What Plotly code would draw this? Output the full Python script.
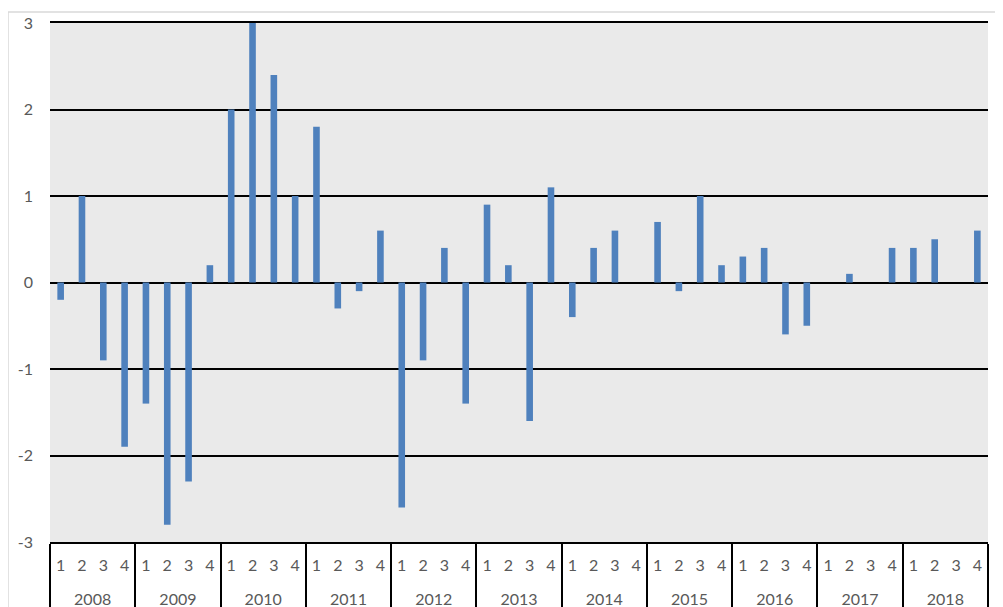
import plotly.graph_objects as go

years = ["2008", "2009", "2010", "2011", "2012", "2013", "2014", "2015", "2016", "2017", "2018"]
quarters = ["1", "2", "3", "4"]
values = [
    -0.2, 1.0, -0.9, -1.9,   # 2008
    -1.4, -2.8, -2.3, 0.2,   # 2009
    2.0, 3.0, 2.4, 1.0,      # 2010
    1.8, -0.3, -0.1, 0.6,    # 2011
    -2.6, -0.9, 0.4, -1.4,   # 2012
    0.9, 0.2, -1.6, 1.1,     # 2013
    -0.4, 0.4, 0.6, 0.0,     # 2014
    0.7, -0.1, 1.0, 0.2,     # 2015
    0.3, 0.4, -0.6, -0.5,    # 2016
    0.0, 0.1, 0.0, 0.4,      # 2017
    0.4, 0.5, 0.0, 0.6,      # 2018
]
y_ticks = [-3, -2, -1, 0, 1, 2, 3]

nq = len(quarters)
x_idx = list(range(len(values)))
quarter_text = [q for _ in years for q in quarters]
year_pos = [i * nq + (nq - 1) / 2 for i in range(len(years))]
divider_pos = [i * nq - 0.5 for i in range(len(years) + 1)]
x_range = [-0.5, len(values) - 0.5]

# page body has an 8px offset in the viewer, compensate
OFF = 8
W, H = 1003 - OFF, 607 - OFF
ml, mr, mt, mb = 50 - OFF, 15, 23 - OFF, 65
pw = W - ml - mr
ph = H - mt - mb

fig = go.Figure()
fig.add_trace(go.Bar(
    x=x_idx,
    y=values,
    marker=dict(color="#4f81bd", line=dict(width=0)),
    width=0.31,
    hoverinfo="y",
))
# carrier trace so the year-label axis is rendered
fig.add_trace(go.Scatter(
    x=year_pos,
    y=[None] * len(year_pos),
    xaxis="x2",
    mode="markers",
    marker=dict(opacity=0),
    hoverinfo="skip",
    showlegend=False,
))

font = dict(family="Lato, Liberation Sans, sans-serif", size=16, color="#595959")

fig.update_layout(
    width=W, height=H,
    margin=dict(l=ml, r=mr, t=mt, b=mb, pad=0, autoexpand=False),
    paper_bgcolor="white",
    plot_bgcolor="#eaeaea",
    showlegend=False,
    font=font,
    xaxis=dict(
        automargin=False,
        range=x_range,
        tickmode="array",
        tickvals=x_idx,
        ticktext=quarter_text,
        ticks="",
        ticklabelstandoff=8,
        showline=True,
        linecolor="black",
        linewidth=1.5,
        mirror=True,
        showgrid=False,
        zeroline=False,
        tickfont=font,
        minor=dict(
            tickmode="array",
            tickvals=divider_pos,
            ticks="outside",
            ticklen=70,
            tickwidth=1.5,
            tickcolor="black",
            showgrid=False,
        ),
    ),
    xaxis2=dict(
        automargin=False,
        overlaying="x",
        anchor="y",
        side="bottom",
        range=x_range,
        tickmode="array",
        tickvals=year_pos,
        ticktext=years,
        ticks="",
        ticklabelstandoff=46,
        showline=False,
        showgrid=False,
        zeroline=False,
        tickfont=font,
    ),
    yaxis=dict(
        automargin=False,
        range=[-3, 3],
        tickvals=y_ticks,
        ticktext=[str(v) for v in y_ticks],
        showgrid=True,
        gridcolor="black",
        gridwidth=1.6,
        zeroline=True,
        zerolinecolor="black",
        zerolinewidth=1.6,
        showline=False,
        ticks="",
        ticklabelstandoff=16,
        tickfont=font,
    ),
    shapes=[
        dict(type="rect", xref="paper", yref="paper",
             x0=(8 - OFF - ml) / pw, x1=(W + 20 - ml) / pw,
             y0=(mt + ph - (H + 20)) / ph, y1=(mt + ph - (12 - OFF)) / ph,
             line=dict(color="#d9d9d9", width=1.5), fillcolor="rgba(0,0,0,0)",
             layer="below"),
    ],
)

fig.write_html("out.html")
